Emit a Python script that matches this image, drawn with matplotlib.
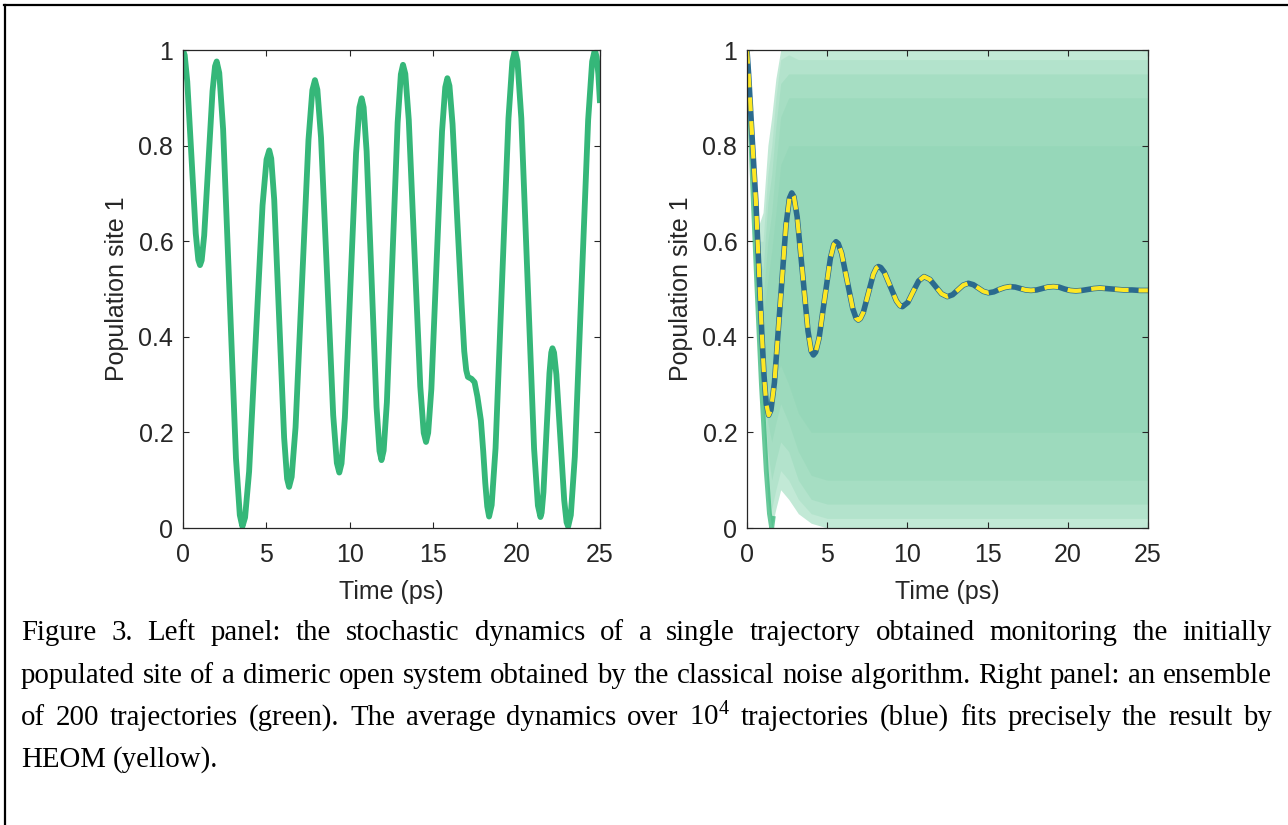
import matplotlib
matplotlib.use("Agg")
import matplotlib.pyplot as plt
from matplotlib.lines import Line2D

plt.rcParams['font.family'] = ['Liberation Sans', 'DejaVu Sans']
plt.rcParams['mathtext.fontset'] = 'custom'
plt.rcParams['mathtext.rm'] = 'Liberation Serif'
plt.rcParams['mathtext.it'] = 'Liberation Serif:italic'

# left panel: single stochastic trajectory
traj_t = [0, 0.102, 0.255, 0.51, 0.765, 0.918, 1.02,
          1.12, 1.27, 1.52, 1.77, 1.92, 2.02,
          2.174, 2.405, 2.79, 3.175, 3.406, 3.56,
          3.721, 3.963, 4.365, 4.768, 5.009, 5.17,
          5.289, 5.468, 5.765, 6.063, 6.241, 6.36,
          6.515, 6.748, 7.135, 7.523, 7.755, 7.91,
          8.056, 8.275, 8.64, 9.005, 9.224, 9.37,
          9.504, 9.705, 10.04, 10.375, 10.576, 10.71,
          10.829, 11.008, 11.305, 11.603, 11.781, 11.9,
          12.029, 12.223, 12.545, 12.868, 13.061, 13.19,
          13.328, 13.535, 13.88, 14.225, 14.432, 14.57,
          14.698, 14.89, 15.21, 15.53, 15.722, 15.85,
          15.975, 16.16, 16.45, 16.7, 16.86, 16.98, 17.08, 17.3, 17.48, 17.65,
          17.86, 18.0, 18.12, 18.24, 18.35,
          18.505, 18.738, 19.125, 19.513, 19.745, 19.9,
          20.053, 20.283, 20.665, 21.048, 21.277, 21.43,
          21.502, 21.61, 21.79, 21.97, 22.078, 22.15,
          22.244, 22.385, 22.62, 22.855, 22.996, 23.09,
          23.25, 23.49, 23.89, 24.29, 24.53, 24.69,
          24.8, 24.9, 25.0]
traj_y = [1.0, 0.989, 0.934, 0.775, 0.616, 0.561, 0.55,
          0.560, 0.612, 0.763, 0.914, 0.966, 0.976,
          0.952, 0.834, 0.490, 0.146, 0.027, 0.003,
          0.022, 0.118, 0.397, 0.675, 0.771, 0.79,
          0.773, 0.687, 0.438, 0.189, 0.103, 0.086,
          0.107, 0.211, 0.512, 0.812, 0.916, 0.937,
          0.917, 0.817, 0.527, 0.236, 0.136, 0.116,
          0.135, 0.231, 0.508, 0.784, 0.880, 0.899,
          0.880, 0.788, 0.521, 0.253, 0.161, 0.142,
          0.162, 0.263, 0.556, 0.848, 0.949, 0.969,
          0.950, 0.854, 0.575, 0.296, 0.199, 0.18,
          0.199, 0.291, 0.561, 0.830, 0.922, 0.941,
          0.925, 0.845, 0.64, 0.47, 0.37, 0.33, 0.316, 0.312, 0.305, 0.275,
          0.225, 0.16, 0.095, 0.045, 0.024,
          0.048, 0.167, 0.512, 0.857, 0.976, 1.0,
          0.976, 0.857, 0.512, 0.166, 0.047, 0.023,
          0.032, 0.075, 0.200, 0.324, 0.367, 0.376,
          0.367, 0.321, 0.190, 0.058, 0.012, 0.003,
          0.027, 0.149, 0.502, 0.854, 0.976, 1.0,
          0.985, 0.95, 0.889]

# right panel: average over 10^4 trajectories (HEOM overlaps it)
mean_t = [0, 0.1, 0.2, 0.35, 0.56, 0.77, 0.92, 1.06, 1.2, 1.35,
          1.494, 1.71, 2.07, 2.43, 2.646, 2.79,
          2.925, 3.1275, 3.465, 3.8025, 4.005, 4.14,
          4.281, 4.4925, 4.845, 5.1975, 5.409, 5.55,
          5.689, 5.8975, 6.245, 6.5925, 6.801, 6.94,
          7.065, 7.2525, 7.565, 7.8775, 8.065, 8.19,
          8.34, 8.565, 8.94, 9.315, 9.54, 9.69,
          10.0275, 10.365, 10.7025, 11.04,
          11.4025, 11.765, 12.1275, 12.49,
          12.8175, 13.145, 13.4725, 13.8,
          14.1125, 14.425, 14.7375, 15.05,
          15.3875, 15.725, 16.0625, 16.4,
          16.725, 17.05, 17.375, 17.7,
          18.05, 18.4, 18.75, 19.1,
          19.45, 19.8, 20.15, 20.5,
          20.875, 21.25, 21.625, 22.0,
          22.375, 22.75, 23.125, 23.5,
          24.0, 24.5, 25.0]
mean_y = [1.0, 0.95, 0.89, 0.8, 0.68, 0.52, 0.41, 0.32, 0.26, 0.236,
          0.247, 0.304, 0.469, 0.633, 0.690, 0.701,
          0.693, 0.651, 0.532, 0.412, 0.370, 0.362,
          0.368, 0.397, 0.481, 0.564, 0.593, 0.599,
          0.595, 0.575, 0.517, 0.459, 0.439, 0.435,
          0.438, 0.451, 0.491, 0.531, 0.544, 0.547,
          0.545, 0.535, 0.505, 0.475, 0.465, 0.463,
          0.472, 0.495, 0.517, 0.526,
          0.520, 0.505, 0.490, 0.484,
          0.488, 0.498, 0.508, 0.512,
          0.509, 0.502, 0.495, 0.492,
          0.494, 0.499, 0.503, 0.505,
          0.504, 0.501, 0.498, 0.497,
          0.498, 0.501, 0.504, 0.505,
          0.504, 0.500, 0.497, 0.496,
          0.497, 0.499, 0.501, 0.502,
          0.501, 0.500, 0.499, 0.498,
          0.498, 0.497, 0.497]
heom_t = mean_t
heom_y = mean_y

# early common strand of the ensemble
strand_t = [0, 0.15, 0.35, 0.6, 0.9, 1.2, 1.4, 1.54, 1.62]
strand_y = [1.0, 0.9, 0.72, 0.52, 0.3, 0.12, 0.03, 0.0, 0.02]

# spread of the 200-trajectory ensemble, outermost to innermost envelope
ens_t = [0, 0.6, 1.0, 1.3, 1.54, 1.8, 2.1, 2.6, 3.2, 4.0, 5.0, 25]
env1_hi = [1.0, 0.62, 0.66, 0.8, 0.86, 0.94, 1.0, 1.0, 1.0, 1.0, 1.0, 1.0]
env1_lo = [1.0, 0.5, 0.24, 0.06, 0.0, 0.04, 0.08, 0.06, 0.03, 0.01, 0.0, 0.0]
env2_hi = [1.0, 0.6, 0.6, 0.74, 0.8, 0.9, 0.98, 0.99, 0.98, 0.98, 0.98, 0.98]
env2_lo = [1.0, 0.52, 0.28, 0.1, 0.04, 0.08, 0.12, 0.1, 0.06, 0.03, 0.02, 0.02]
env3_hi = [1.0, 0.58, 0.54, 0.68, 0.74, 0.84, 0.93, 0.95, 0.95, 0.95, 0.95, 0.95]
env3_lo = [1.0, 0.53, 0.32, 0.16, 0.1, 0.14, 0.18, 0.16, 0.1, 0.06, 0.05, 0.05]
env4_hi = [1.0, 0.57, 0.48, 0.6, 0.66, 0.76, 0.86, 0.9, 0.9, 0.9, 0.9, 0.9]
env4_lo = [1.0, 0.54, 0.36, 0.22, 0.18, 0.22, 0.26, 0.22, 0.16, 0.11, 0.1, 0.1]
env5_hi = [1.0, 0.56, 0.44, 0.52, 0.58, 0.66, 0.76, 0.8, 0.8, 0.8, 0.8, 0.8]
env5_lo = [1.0, 0.55, 0.4, 0.3, 0.28, 0.32, 0.34, 0.3, 0.24, 0.2, 0.2, 0.2]
env_alpha = [0.3, 0.1, 0.1, 0.08, 0.06]

xticks = [0, 5, 10, 15, 20, 25]
yticks = [0, 0.2, 0.4, 0.6, 0.8, 1]
ytick_labels = ['0', '0.2', '0.4', '0.6', '0.8', '1']

caption = [
    "Figure 3. Left panel: the stochastic dynamics of a single trajectory obtained monitoring the initially",
    "populated site of a dimeric open system obtained by the classical noise algorithm. Right panel: an ensemble",
    r"of 200 trajectories (green). The average dynamics over $\mathrm{10}^{\mathrm{4}}$ trajectories (blue) fits precisely the result by",
    "HEOM (yellow).",
]

green = '#35b779'
blue = '#2b6a8e'
yellow = '#fde725'
axcol = '#262626'

W, H = 1288, 825
fig = plt.figure(figsize=(W / 100, H / 100), dpi=100)


def style(ax):
    ax.set_xlim(0, 25)
    ax.set_ylim(0, 1)
    ax.set_xticks(xticks)
    ax.set_yticks(yticks)
    ax.set_yticklabels(ytick_labels)
    ax.tick_params(direction='in', length=4, width=0.8, colors=axcol,
                   labelsize=18, top=True, right=True, pad=7)
    ax.tick_params(axis='x', pad=11)
    for s in ax.spines.values():
        s.set_color(axcol)
        s.set_linewidth(0.9)
    ax.set_xlabel('Time (ps)', fontsize=18, color=axcol, labelpad=9)
    ax.set_ylabel('Population site 1', fontsize=18, color=axcol, labelpad=7)


ax1 = fig.add_axes([183 / W, 1 - 528 / H, 417 / W, 478 / H])
ax1.plot(traj_t, traj_y, color=green, lw=4.2, solid_capstyle='butt')
style(ax1)

ax2 = fig.add_axes([747 / W, 1 - 528 / H, 401 / W, 478 / H])
envelopes = [(env1_lo, env1_hi), (env2_lo, env2_hi), (env3_lo, env3_hi),
             (env4_lo, env4_hi), (env5_lo, env5_hi)]
for (lo, hi), a in zip(envelopes, env_alpha):
    ax2.fill_between(ens_t, lo, hi, color=green, alpha=a, lw=0)
ax2.plot(strand_t, strand_y, color=green, lw=3.5, alpha=0.75)
ax2.plot(mean_t, mean_y, color=blue, lw=4)
ax2.plot(heom_t, heom_y, color=yellow, lw=3, dashes=(3.3, 2.4))
style(ax2)

# page frame (top and left edges)
fig.add_artist(Line2D([4 / W, 1], [1 - 4.5 / H, 1 - 4.5 / H], color='black', lw=1.6))
fig.add_artist(Line2D([5 / W, 5 / W], [0, 1 - 4.5 / H], color='black', lw=1.6))

# justified caption; font size chosen so line 2 fills the width with plain spaces
renderer = fig.canvas.get_renderer()
x0, x1 = 21, 1272
baselines = [640, 683, 725, 767]
fs = 16.0
probe = [fig.text(0, 0, w, fontsize=fs, family='Liberation Serif') for w in caption[1].split(' ')]
natural = sum(t.get_window_extent(renderer).width for t in probe) + (len(probe) - 1) * fs * 0.25 * 100 / 72
for t in probe:
    t.remove()
fs = fs * (x1 - x0) / natural * 0.995

for i, line in enumerate(caption):
    words = line.split(' ')
    texts = [fig.text(0, 1 - baselines[i] / H, w, fontsize=fs, family='Liberation Serif',
                      va='baseline', ha='left', color='black') for w in words]
    widths = [t.get_window_extent(renderer).width for t in texts]
    if i < 3:
        gap = (x1 - x0 - sum(widths)) / (len(words) - 1)
    else:
        gap = fs * 0.25 * 100 / 72
    x = x0
    for t, w in zip(texts, widths):
        t.set_x(x / W)
        x += w + gap

fig.savefig('out.png', dpi=100)
